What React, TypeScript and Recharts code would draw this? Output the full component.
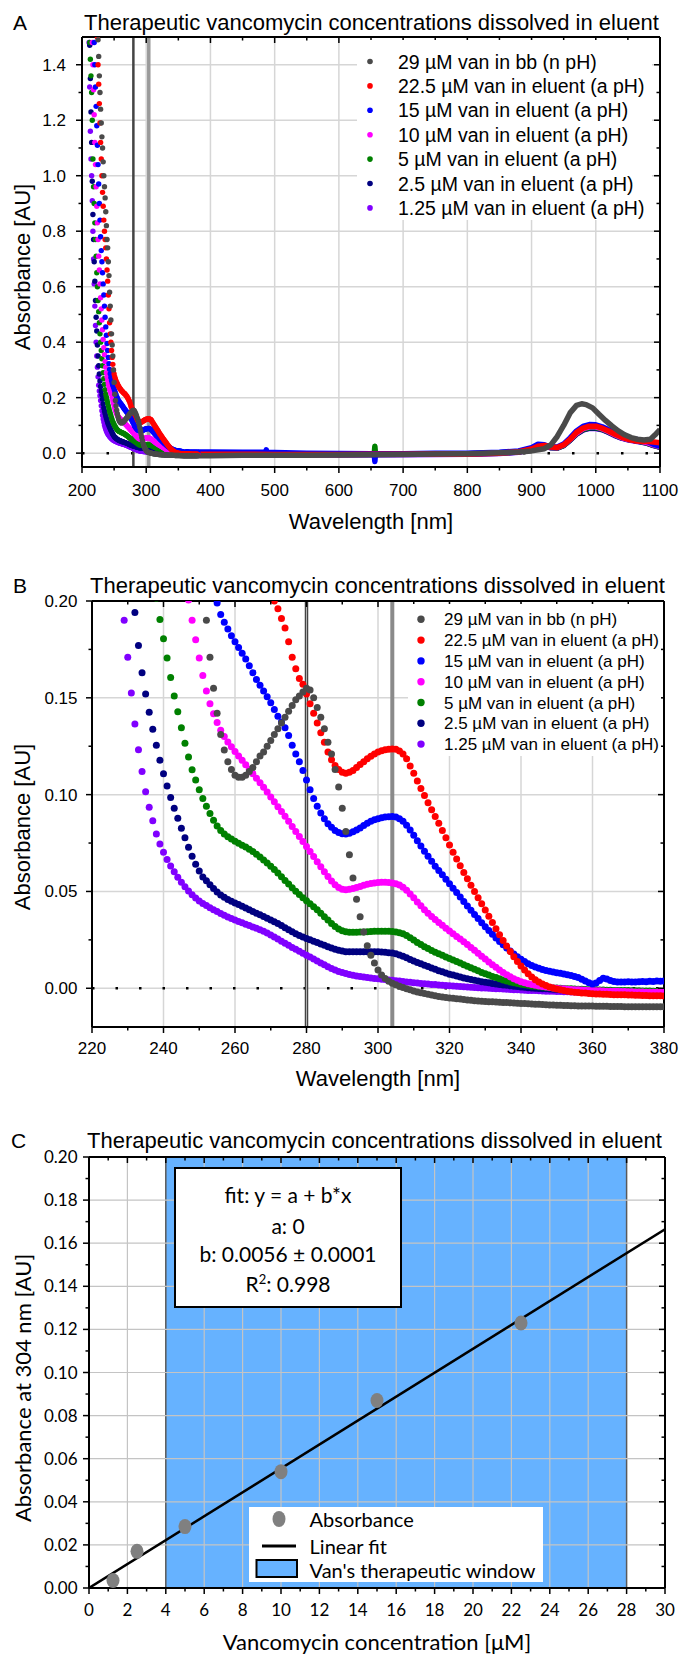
import React from "react";
import {
  ComposedChart,
  Scatter,
  Line,
  XAxis,
  YAxis,
  CartesianGrid,
  ReferenceLine,
  ReferenceArea,
} from "recharts";

const ARIAL = "'Liberation Sans', Arial, sans-serif";
const LATO = "Lato, 'Liberation Sans', sans-serif";
const TITLE = "Therapeutic vancomycin concentrations dissolved in eluent";

const SERIES_NAMES = [
  "29 µM van in bb (n pH)",
  "22.5 µM van in eluent (a pH)",
  "15 µM van in eluent (a pH)",
  "10 µM van in eluent (a pH)",
  "5 µM van in eluent (a pH)",
  "2.5 µM van in eluent (a pH)",
  "1.25 µM van in eluent (a pH)",
];
const SERIES_COLORS = ["#4a4a4a", "#ff0000", "#0000ff", "#ff00ff", "#008000", "#000080", "#8000ff"];

// steep UV edge above 0.2 AU (only visible in panel A), 1 nm steps from the start value
const GRAY_A_START = 224;
const GRAY_A = [1.56, 1.49, 1.43, 1.36, 1.3, 1.24, 1.19, 1.14, 1.1, 1.05, 1.0, 0.96, 0.92, 0.87, 0.82, 0.77, 0.74, 0.69, 0.64, 0.58, 0.53, 0.48, 0.43, 0.39, 0.35, 0.3, 0.255];
const RED_A_START = 223;
const RED_A = [1.58, 1.5, 1.4, 1.33, 1.26, 1.19, 1.12, 1.06, 1.0, 0.94, 0.89, 0.84, 0.8, 0.77, 0.74, 0.7, 0.66, 0.62, 0.57, 0.52, 0.47, 0.43, 0.4, 0.37, 0.345, 0.32, 0.3, 0.285, 0.275, 0.267, 0.26, 0.255, 0.25, 0.245, 0.241, 0.237, 0.233, 0.23, 0.227, 0.224, 0.222, 0.219, 0.217, 0.215, 0.213, 0.21, 0.207, 0.204];
const BLUE_A_START = 218;
const BLUE_A = [1.55, 1.48, 1.4, 1.32, 1.25, 1.18, 1.11, 1.04, 0.97, 0.9, 0.84, 0.78, 0.73, 0.69, 0.65, 0.61, 0.57, 0.53, 0.49, 0.455, 0.425, 0.395, 0.37, 0.345, 0.322, 0.302, 0.286, 0.273, 0.262, 0.253, 0.245, 0.238, 0.231, 0.224, 0.217, 0.211];
const PINK_A_START = 215;
const PINK_A = [1.55, 1.48, 1.4, 1.31, 1.22, 1.12, 1.04, 0.96, 0.89, 0.83, 0.77, 0.71, 0.66, 0.61, 0.56, 0.52, 0.48, 0.445, 0.41, 0.38, 0.355, 0.33, 0.31, 0.29, 0.275, 0.262, 0.25, 0.24, 0.231, 0.223, 0.217];
const GREEN_A_START = 211;
const GREEN_A = [1.55, 1.48, 1.42, 1.36, 1.3, 1.2, 1.06, 0.96, 0.9, 0.83, 0.77, 0.71, 0.65, 0.6, 0.55, 0.51, 0.47, 0.43, 0.4, 0.37, 0.34, 0.315, 0.29, 0.268, 0.248, 0.229];
const NAVY_A_START = 211;
const NAVY_A = [1.55, 1.47, 1.35, 1.23, 1.12, 0.98, 0.86, 0.77, 0.69, 0.62, 0.55, 0.49, 0.44, 0.39, 0.35, 0.315, 0.285, 0.26, 0.24, 0.224];
const PURPLE_A_START = 210;
const PURPLE_A = [1.55, 1.48, 1.32, 1.16, 1.06, 1.0, 0.91, 0.8, 0.7, 0.61, 0.53, 0.46, 0.4, 0.35, 0.31, 0.275, 0.245, 0.224];

// 1 nm readings up to 380 nm (panel B, also reused in panel A)
const GRAY_B_START = 251;
const GRAY_B = [
  0.212, 0.19, 0.171, 0.155, 0.142, 0.131, 0.123, 0.117, 0.113, 0.11,
  0.109, 0.109, 0.11, 0.112, 0.114, 0.117, 0.12, 0.122, 0.125, 0.128,
  0.131, 0.134, 0.137, 0.14, 0.143, 0.146, 0.149, 0.151, 0.153, 0.155,
  0.154, 0.15, 0.145, 0.14, 0.134, 0.127, 0.121, 0.113, 0.104, 0.093,
  0.081, 0.069, 0.057, 0.046, 0.037, 0.029, 0.022, 0.017, 0.013, 0.0095,
  0.0068, 0.005, 0.0036, 0.0026, 0.0018, 0.001, 0.0004, -0.0002, -0.0008, -0.0014,
  -0.0019, -0.0023, -0.0027, -0.0031, -0.0035, -0.0039, -0.0042, -0.0045, -0.0048, -0.005,
  -0.0052, -0.0054, -0.0056, -0.0058, -0.006, -0.0062, -0.0064, -0.0066, -0.0067, -0.0068,
  -0.0069, -0.007, -0.0071, -0.0072, -0.0073, -0.0074, -0.0075, -0.0076, -0.0077, -0.0078,
  -0.0079, -0.008, -0.0081, -0.0082, -0.0083, -0.0084, -0.0085, -0.0086, -0.0087, -0.0088,
  -0.0088, -0.0089, -0.0089, -0.009, -0.009, -0.0091, -0.0091, -0.0092, -0.0092, -0.0092,
  -0.0093, -0.0093, -0.0093, -0.0093, -0.0094, -0.0094, -0.0094, -0.0094, -0.0095, -0.0095,
  -0.0095, -0.0095, -0.0095, -0.0096, -0.0096, -0.0096, -0.0096, -0.0096, -0.0096, -0.0096,
];
const RED_B_START = 271;
const RED_B = [
  0.2, 0.196, 0.191, 0.186, 0.179, 0.171, 0.165, 0.16, 0.157, 0.152,
  0.147, 0.142, 0.137, 0.132, 0.127, 0.122, 0.118, 0.115, 0.113, 0.1115,
  0.111, 0.1115, 0.1125, 0.114, 0.1155, 0.117, 0.1185, 0.1198, 0.121, 0.122,
  0.1226, 0.1232, 0.1235, 0.1236, 0.1234, 0.1225, 0.121, 0.1185, 0.1148, 0.111,
  0.107, 0.1032, 0.0995, 0.0958, 0.0922, 0.0887, 0.0852, 0.0815, 0.0777, 0.074,
  0.0703, 0.0668, 0.0633, 0.0598, 0.0565, 0.0532, 0.05, 0.0468, 0.0436, 0.0404,
  0.0372, 0.034, 0.0308, 0.0277, 0.0247, 0.0218, 0.019, 0.0163, 0.0138, 0.0115,
  0.0094, 0.0075, 0.0058, 0.0044, 0.0032, 0.0022, 0.0014, 0.0007, 0.0001, -0.0004,
  -0.0008, -0.0012, -0.0015, -0.0018, -0.002, -0.0022, -0.0024, -0.0025, -0.0027, -0.0028,
  -0.0029, -0.003, -0.0031, -0.0031, -0.0032, -0.0033, -0.0033, -0.0034, -0.0034, -0.0035,
  -0.0035, -0.0036, -0.0036, -0.0037, -0.0037, -0.0038, -0.0038, -0.0039, -0.0039, -0.004,
];
const BLUE_B_START = 254;
const BLUE_B = [
  0.203, 0.199, 0.193, 0.189, 0.1855, 0.182, 0.179, 0.176, 0.173, 0.17,
  0.1665, 0.163, 0.1595, 0.1565, 0.1535, 0.1505, 0.1475, 0.144, 0.1405, 0.1375,
  0.1345, 0.1305, 0.1255, 0.121, 0.117, 0.1125, 0.1075, 0.1025, 0.098, 0.094,
  0.0905, 0.0875, 0.085, 0.0832, 0.0815, 0.0805, 0.0798, 0.0797, 0.08, 0.0808,
  0.0817, 0.0828, 0.0841, 0.0852, 0.0862, 0.087, 0.0876, 0.0881, 0.0884, 0.0886,
  0.0887, 0.0884, 0.0876, 0.0862, 0.0842, 0.0818, 0.079, 0.0762, 0.0735, 0.0708,
  0.0682, 0.0656, 0.063, 0.0608, 0.0586, 0.0563, 0.054, 0.0517, 0.0494, 0.0471,
  0.0448, 0.0425, 0.0403, 0.0381, 0.036, 0.0339, 0.0318, 0.0298, 0.0279, 0.026,
  0.0242, 0.0225, 0.0208, 0.0192, 0.0177, 0.0163, 0.015, 0.0138, 0.0127, 0.0118,
  0.011, 0.0103, 0.0097, 0.0092, 0.0088, 0.0084, 0.008, 0.0077, 0.0074, 0.007,
  0.0066, 0.0061, 0.0055, 0.0047, 0.0038, 0.0028, 0.0022, 0.0027, 0.004, 0.0052,
  0.0048, 0.004, 0.0035, 0.0033, 0.0032, 0.0033, 0.0034, 0.0033, 0.0032, 0.0034,
  0.0035, 0.0034, 0.0036, 0.0035, 0.0037, 0.0036, 0.0037,
];
const PINK_B_START = 246;
const PINK_B = [
  0.212, 0.2005, 0.19, 0.18, 0.1705, 0.1615, 0.1535, 0.147, 0.1418, 0.1372,
  0.1333, 0.13, 0.1272, 0.1247, 0.1223, 0.12, 0.1177, 0.1154, 0.1131, 0.1108,
  0.1085, 0.1062, 0.1038, 0.1013, 0.0988, 0.0963, 0.0938, 0.0913, 0.0888, 0.0862,
  0.0836, 0.081, 0.0784, 0.0758, 0.0732, 0.0706, 0.068, 0.0654, 0.0628, 0.0602,
  0.0577, 0.0554, 0.0535, 0.052, 0.0512, 0.0509, 0.0511, 0.0515, 0.052, 0.0526,
  0.0532, 0.0537, 0.0541, 0.0544, 0.0546, 0.0547, 0.0547, 0.0546, 0.0544, 0.054,
  0.0533, 0.0522, 0.0506, 0.0487, 0.0467, 0.0446, 0.0426, 0.0406, 0.0388, 0.0371,
  0.0355, 0.034, 0.0325, 0.031, 0.0296, 0.0282, 0.0268, 0.0254, 0.024, 0.0226,
  0.0211, 0.0196, 0.0181, 0.0166, 0.0151, 0.0136, 0.0122, 0.0108, 0.0095, 0.0082,
  0.007, 0.0059, 0.0049, 0.0041, 0.0034, 0.0028, 0.0023, 0.0019, 0.0015, 0.0012,
  0.0009, 0.0007, 0.0004, 0.0002, 0, -0.0002, -0.0003, -0.0005, -0.0006, -0.0007,
  -0.0008, -0.0009, -0.001, -0.0011, -0.0012, -0.0013, -0.0013, -0.0014, -0.0015, -0.0015,
  -0.0016, -0.0016, -0.0017, -0.0017, -0.0018, -0.0018, -0.0019, -0.0019, -0.0019, -0.002,
  -0.002, -0.002, -0.0021, -0.0021, -0.0021,
];
const GREEN_B_START = 237;
const GREEN_B = [
  0.212, 0.2015, 0.1905, 0.1805, 0.1705, 0.1605, 0.151, 0.1428, 0.1345, 0.1265,
  0.1195, 0.1128, 0.1075, 0.1025, 0.098, 0.094, 0.0902, 0.0868, 0.0838, 0.0815,
  0.0797, 0.0783, 0.0771, 0.0759, 0.0749, 0.0739, 0.0729, 0.0718, 0.0706, 0.0692,
  0.0678, 0.0663, 0.0647, 0.063, 0.0613, 0.0595, 0.0576, 0.0557, 0.0538, 0.0519,
  0.0501, 0.0484, 0.0468, 0.0452, 0.0437, 0.0421, 0.0405, 0.0388, 0.037, 0.0352,
  0.0335, 0.0319, 0.0306, 0.0297, 0.0292, 0.0289, 0.0289, 0.0289, 0.029, 0.0291,
  0.0292, 0.0293, 0.0294, 0.0295, 0.0295, 0.0295, 0.0294, 0.0293, 0.0291, 0.0287,
  0.0281, 0.0272, 0.0261, 0.0249, 0.0237, 0.0226, 0.0215, 0.0205, 0.0195, 0.0186,
  0.0178, 0.017, 0.0162, 0.0154, 0.0146, 0.0138, 0.013, 0.0122, 0.0114, 0.0106,
  0.0098, 0.009, 0.0082, 0.0075, 0.0068, 0.0061, 0.0055, 0.0049, 0.0043, 0.0038,
  0.0033, 0.0029, 0.0025, 0.0021, 0.0018, 0.0015, 0.0012, 0.001, 0.0008, 0.0006,
  0.0004, 0.0003, 0.0002, 0.0001, 0, -0.0001, -0.0002, -0.0003, -0.0004, -0.0005,
  -0.0005, -0.0006, -0.0007, -0.0008, -0.0008, -0.0009, -0.0009, -0.001, -0.001, -0.0011,
  -0.0011, -0.0012, -0.0012, -0.0012, -0.0013, -0.0013, -0.0013, -0.0014, -0.0014, -0.0014,
  -0.0015, -0.0015, -0.0015, -0.0015,
];
const NAVY_B_START = 231;
const NAVY_B = [
  0.21, 0.194, 0.177, 0.163, 0.152, 0.1425, 0.1338, 0.1255, 0.1178, 0.1108,
  0.1045, 0.0985, 0.093, 0.0878, 0.0827, 0.0777, 0.0728, 0.0682, 0.064, 0.0605,
  0.0575, 0.0555, 0.0535, 0.0515, 0.0497, 0.0482, 0.047, 0.0459, 0.045, 0.0441,
  0.0432, 0.0423, 0.0414, 0.0405, 0.0396, 0.0388, 0.038, 0.0371, 0.0362, 0.0353,
  0.0344, 0.0334, 0.0324, 0.0313, 0.0302, 0.0292, 0.0282, 0.0273, 0.0265, 0.0257,
  0.025, 0.0243, 0.0236, 0.0229, 0.0222, 0.0215, 0.0208, 0.0201, 0.0196, 0.0192,
  0.0189, 0.0188, 0.0188, 0.0188, 0.0188, 0.0188, 0.0188, 0.0188, 0.0188, 0.0188,
  0.0187, 0.0186, 0.0184, 0.0182, 0.0178, 0.0172, 0.0165, 0.0157, 0.0149, 0.0141,
  0.0133, 0.0126, 0.0119, 0.0112, 0.0105, 0.0098, 0.0091, 0.0085, 0.0079, 0.0073,
  0.0068, 0.0063, 0.0058, 0.0053, 0.0049, 0.0045, 0.0041, 0.0037, 0.0034, 0.0031,
  0.0028, 0.0025, 0.0022, 0.0019, 0.0017, 0.0015, 0.0013, 0.0011, 0.0009, 0.0007,
  0.0005, 0.0003, 0.0001, 0, -0.0001, -0.0002, -0.0003, -0.0004, -0.0005, -0.0006,
  -0.0007, -0.0008, -0.0009, -0.001, -0.0011, -0.0012, -0.0013, -0.0014, -0.0015, -0.0016,
  -0.0017, -0.0018, -0.0018, -0.0019, -0.0019, -0.002, -0.002, -0.0021, -0.0021, -0.0022,
  -0.0022, -0.0022, -0.0023, -0.0023, -0.0023, -0.0024, -0.0024, -0.0024, -0.0025, -0.0025,
];
const PURPLE_B_START = 228;
const PURPLE_B = [
  0.207, 0.19, 0.171, 0.1525, 0.1365, 0.1232, 0.112, 0.1015, 0.0935, 0.0865,
  0.0797, 0.0745, 0.0702, 0.0665, 0.0632, 0.0602, 0.0574, 0.0548, 0.0524, 0.0502,
  0.0483, 0.0466, 0.0451, 0.0438, 0.0427, 0.0416, 0.0406, 0.0396, 0.0386, 0.0377,
  0.0368, 0.036, 0.0352, 0.0345, 0.0338, 0.0331, 0.0324, 0.0317, 0.031, 0.0302,
  0.0294, 0.0285, 0.0275, 0.0265, 0.0254, 0.0243, 0.0232, 0.0222, 0.0211, 0.0201,
  0.0191, 0.0181, 0.0171, 0.0161, 0.0151, 0.0141, 0.0131, 0.0121, 0.0111, 0.0102,
  0.0094, 0.0087, 0.0081, 0.0076, 0.0071, 0.0067, 0.0064, 0.0061, 0.0058, 0.0055,
  0.0053, 0.0051, 0.0049, 0.0047, 0.0045, 0.0043, 0.0041, 0.0039, 0.0037, 0.0035,
  0.0033, 0.0031, 0.0029, 0.0027, 0.0025, 0.0024, 0.0022, 0.002, 0.0019, 0.0017,
  0.0016, 0.0014, 0.0013, 0.0012, 0.001, 0.0009, 0.0008, 0.0007, 0.0005, 0.0004,
  0.0003, 0.0002, 0.0001, 0, -0.0001, -0.0002, -0.0003, -0.0004, -0.0005, -0.0006,
  -0.0007, -0.0008, -0.0009, -0.001, -0.0011, -0.0012, -0.0012, -0.0013, -0.0014, -0.0015,
  -0.0015, -0.0016, -0.0017, -0.0017, -0.0018, -0.0018, -0.0019, -0.0019, -0.002, -0.002,
  -0.0021, -0.0021, -0.0021, -0.0022, -0.0022, -0.0022, -0.0023, -0.0023, -0.0023, -0.0024,
  -0.0024, -0.0024, -0.0024, -0.0025, -0.0025, -0.0025, -0.0025, -0.0026, -0.0026, -0.0026,
  -0.0026, -0.0027, -0.0027,
];

// visible/NIR part of panel A, [nm, AU]
const GRAY_TAIL = [[380, -0.0096], [400, -0.009], [450, -0.008], [500, -0.008], [550, -0.008], [600, -0.007], [650, -0.006], [700, -0.005], [750, -0.003], [800, -0.002], [850, 0.001], [880, 0.004], [900, 0.008], [910, 0.012], [920, 0.016], [930, 0.03], [940, 0.06], [950, 0.1], [960, 0.145], [970, 0.172], [978, 0.178], [985, 0.175], [995, 0.163], [1005, 0.14], [1015, 0.118], [1025, 0.098], [1035, 0.08], [1045, 0.066], [1055, 0.056], [1065, 0.05], [1075, 0.047], [1085, 0.05], [1092, 0.065], [1100, 0.085]];
const RED_TAIL = [[380, -0.004], [400, -0.004], [450, -0.004], [500, -0.005], [550, -0.005], [600, -0.005], [650, -0.004], [700, -0.004], [750, -0.003], [800, -0.003], [850, 0], [880, 0.005], [900, 0.015], [910, 0.025], [920, 0.028], [930, 0.022], [940, 0.02], [950, 0.03], [960, 0.05], [970, 0.075], [980, 0.09], [990, 0.097], [1000, 0.097], [1010, 0.09], [1020, 0.08], [1030, 0.068], [1040, 0.058], [1050, 0.05], [1060, 0.045], [1070, 0.043], [1080, 0.042], [1090, 0.04], [1100, 0.037]];
const BLUE_TAIL = [[380, 0.0037], [400, 0.004], [450, 0.003], [486, 0.004], [487, 0.012], [488, -0.006], [489, 0.003], [500, 0.002], [550, 0], [600, -0.001], [650, -0.002], [655, -0.002], [656, -0.03], [657, -0.002], [700, -0.002], [750, 0], [800, 0], [850, 0.003], [880, 0.008], [900, 0.02], [910, 0.032], [920, 0.03], [930, 0.022], [940, 0.022], [950, 0.033], [960, 0.055], [970, 0.08], [980, 0.096], [990, 0.103], [1000, 0.102], [1010, 0.095], [1020, 0.084], [1030, 0.072], [1040, 0.062], [1050, 0.055], [1060, 0.05], [1070, 0.047], [1080, 0.042], [1090, 0.032], [1100, 0.025]];
const PINK_TAIL = [[380, -0.0021], [400, -0.002], [500, -0.003], [600, -0.004], [700, -0.003], [800, -0.002], [850, 0.001], [880, 0.005], [900, 0.017], [910, 0.028], [920, 0.028], [930, 0.021], [940, 0.02], [950, 0.03], [960, 0.05], [970, 0.072], [980, 0.088], [990, 0.095], [1000, 0.095], [1010, 0.088], [1020, 0.078], [1030, 0.066], [1040, 0.056], [1050, 0.05], [1060, 0.046], [1070, 0.043], [1080, 0.038], [1090, 0.03], [1100, 0.024]];
const GREEN_TAIL = [[380, -0.0015], [400, -0.002], [500, -0.003], [600, -0.004], [655, -0.004], [656, 0.025], [657, -0.004], [700, -0.004], [800, -0.002], [850, 0.001], [880, 0.005], [900, 0.016], [910, 0.027], [920, 0.027], [930, 0.02], [940, 0.019], [950, 0.028], [960, 0.048], [970, 0.07], [980, 0.085], [990, 0.092], [1000, 0.092], [1010, 0.086], [1020, 0.076], [1030, 0.065], [1040, 0.056], [1050, 0.05], [1060, 0.046], [1070, 0.042], [1080, 0.036], [1090, 0.028], [1100, 0.022]];
const NAVY_TAIL = [[380, -0.0025], [400, -0.003], [500, -0.004], [600, -0.005], [700, -0.004], [800, -0.003], [850, 0], [880, 0.004], [900, 0.015], [910, 0.026], [920, 0.026], [930, 0.02], [940, 0.019], [950, 0.028], [960, 0.047], [970, 0.069], [980, 0.084], [990, 0.09], [1000, 0.09], [1010, 0.085], [1020, 0.075], [1030, 0.064], [1040, 0.055], [1050, 0.049], [1060, 0.045], [1070, 0.041], [1080, 0.036], [1090, 0.028], [1100, 0.022]];
const PURPLE_TAIL = [[380, -0.0027], [400, -0.004], [500, -0.006], [600, -0.007], [700, -0.006], [800, -0.004], [850, -0.001], [880, 0.003], [900, 0.014], [910, 0.025], [920, 0.025], [930, 0.019], [940, 0.018], [950, 0.027], [960, 0.046], [970, 0.068], [980, 0.083], [990, 0.089], [1000, 0.089], [1010, 0.084], [1020, 0.074], [1030, 0.063], [1040, 0.054], [1050, 0.048], [1060, 0.044], [1070, 0.04], [1080, 0.035], [1090, 0.027], [1100, 0.021]];

// panel C
const CONC = [1.25, 2.5, 5, 10, 15, 22.5];
const ABS_304 = [0.0035, 0.017, 0.0285, 0.054, 0.087, 0.123];
const FIT_X = [0, 30];
const FIT_Y = [0, 0.1665];
const WINDOW = [4, 28];

// ticks
const A_X_TICKS = [200, 250, 300, 350, 400, 450, 500, 550, 600, 650, 700, 750, 800, 850, 900, 950, 1000, 1050, 1100];
const A_X_MAJOR = [200, 300, 400, 500, 600, 700, 800, 900, 1000, 1100];
const A_Y_TICKS = [0, 0.1, 0.2, 0.3, 0.4, 0.5, 0.6, 0.7, 0.8, 0.9, 1.0, 1.1, 1.2, 1.3, 1.4];
const A_Y_MAJOR = [0, 0.2, 0.4, 0.6, 0.8, 1.0, 1.2, 1.4];
const B_X_TICKS = [220, 230, 240, 250, 260, 270, 280, 290, 300, 310, 320, 330, 340, 350, 360, 370, 380];
const B_X_MAJOR = [220, 240, 260, 280, 300, 320, 340, 360, 380];
const B_Y_TICKS = [0, 0.025, 0.05, 0.075, 0.1, 0.125, 0.15, 0.175, 0.2];
const B_Y_MAJOR = [0, 0.05, 0.1, 0.15, 0.2];
const C_X_TICKS = [0, 1, 2, 3, 4, 5, 6, 7, 8, 9, 10, 11, 12, 13, 14, 15, 16, 17, 18, 19, 20, 21, 22, 23, 24, 25, 26, 27, 28, 29, 30];
const C_X_MAJOR = [0, 2, 4, 6, 8, 10, 12, 14, 16, 18, 20, 22, 24, 26, 28, 30];
const C_Y_TICKS = [0, 0.01, 0.02, 0.03, 0.04, 0.05, 0.06, 0.07, 0.08, 0.09, 0.1, 0.11, 0.12, 0.13, 0.14, 0.15, 0.16, 0.17, 0.18, 0.19, 0.2];
const C_Y_MAJOR = [0, 0.02, 0.04, 0.06, 0.08, 0.1, 0.12, 0.14, 0.16, 0.18, 0.2];
const C_GRID_X = [2, 6, 8, 10, 12, 14, 16, 18, 20, 22, 24, 26];
const C_GRID_Y = [0.02, 0.04, 0.06, 0.08, 0.1, 0.12, 0.14, 0.16, 0.18];

const SETS = [
  { a: [GRAY_A_START, GRAY_A], b: [GRAY_B_START, GRAY_B], tail: GRAY_TAIL },
  { a: [RED_A_START, RED_A], b: [RED_B_START, RED_B], tail: RED_TAIL },
  { a: [BLUE_A_START, BLUE_A], b: [BLUE_B_START, BLUE_B], tail: BLUE_TAIL },
  { a: [PINK_A_START, PINK_A], b: [PINK_B_START, PINK_B], tail: PINK_TAIL },
  { a: [GREEN_A_START, GREEN_A], b: [GREEN_B_START, GREEN_B], tail: GREEN_TAIL },
  { a: [NAVY_A_START, NAVY_A], b: [NAVY_B_START, NAVY_B], tail: NAVY_TAIL },
  { a: [PURPLE_A_START, PURPLE_A], b: [PURPLE_B_START, PURPLE_B], tail: PURPLE_TAIL },
];
const DRAW_ORDER = [6, 5, 4, 3, 2, 1, 0];

const seq = (s: any[]) => (s[1] as number[]).map((y, i) => ({ x: (s[0] as number) + i, y }));
const pairs = (arr: number[][]) => arr.map(([x, y]) => ({ x, y }));

const AXIS_LINE = { stroke: "#000", strokeWidth: 2 };
// axis band sizes; chart margins below are the plot edges minus these
const XH = 30;
const YW = 60;
const RW = 10;

function axisTick(side: string, major: number[], fmt: (v: number) => string, font: string, gap: number) {
  return (p: any) => {
    const v = Number(p.payload.value);
    const isMajor = major.some((m) => Math.abs(m - v) < 1e-9);
    const len = isMajor ? 6 : 3.5;
    const st = { stroke: "#000", strokeWidth: 1.5 };
    if (side === "bottom")
      return (
        <g>
          <line x1={p.x} y1={p.y} x2={p.x} y2={p.y + len} {...st} />
          {isMajor && (
            <text x={p.x} y={p.y + gap} textAnchor="middle" fontFamily={font} fontSize={17} fill="#000">
              {fmt(v)}
            </text>
          )}
        </g>
      );
    if (side === "top") return <line x1={p.x} y1={p.y} x2={p.x} y2={p.y + len} {...st} />;
    if (side === "left")
      return (
        <g>
          <line x1={p.x} y1={p.y} x2={p.x - len} y2={p.y} {...st} />
          {isMajor && (
            <text x={p.x - gap} y={p.y + 6} textAnchor="end" fontFamily={font} fontSize={17} fill="#000">
              {fmt(v)}
            </text>
          )}
        </g>
      );
    return <line x1={p.x} y1={p.y} x2={p.x - len} y2={p.y} {...st} />;
  };
}

const dot = (color: string, r: number) => (p: any) => <circle cx={p.cx} cy={p.cy} r={r} fill={color} />;

function Frame(props: any) {
  const { xDomain, yDomain, xTicks, xMajor, yTicks, yMajor, xFmt, yFmt, font, xGap, yGap } = props;
  return [
    <XAxis key="xb" type="number" dataKey="x" domain={xDomain} ticks={xTicks} allowDataOverflow interval={0}
      height={XH} tickSize={0} tickMargin={0} tickLine={false} axisLine={AXIS_LINE}
      tick={axisTick("bottom", xMajor, xFmt, font, xGap)} />,
    <XAxis key="xt" xAxisId="top" orientation="top" type="number" dataKey="x" domain={xDomain} ticks={xTicks}
      allowDataOverflow interval={0} height={XH} tickSize={0} tickMargin={0} tickLine={false} axisLine={AXIS_LINE}
      tick={axisTick("top", xMajor, xFmt, font, 0)} />,
    <YAxis key="yl" type="number" dataKey="y" domain={yDomain} ticks={yTicks} allowDataOverflow interval={0}
      width={YW} tickSize={0} tickMargin={0} tickLine={false} axisLine={AXIS_LINE}
      tick={axisTick("left", yMajor, yFmt, font, yGap)} />,
    <YAxis key="yr" yAxisId="right" orientation="right" type="number" dataKey="y" domain={yDomain} ticks={yTicks}
      allowDataOverflow interval={0} width={RW} tickSize={0} tickMargin={0} tickLine={false} axisLine={AXIS_LINE}
      tick={axisTick("right", yMajor, yFmt, font, 0)} />,
  ];
}

// plot box: left, top, right, bottom (page px) -> chart margin for a chart placed at `top`
const marginFor = (chartTop: number, chartH: number, l: number, t: number, r: number, b: number) => ({
  left: l - YW,
  top: t - chartTop - XH,
  right: 681 - r - RW,
  bottom: chartTop + chartH - b - XH,
});

function PanelA() {
  return (
    <div style={{ position: "absolute", left: 0, top: 0 }}>
      <ComposedChart width={681} height={550} margin={marginFor(0, 550, 82, 37, 660, 467)}>
        <CartesianGrid stroke="#d6d6d6" strokeWidth={1.5} verticalValues={A_X_MAJOR} horizontalValues={A_Y_MAJOR} />
        {Frame({
          xDomain: [200, 1100], yDomain: [-0.05, 1.5], xTicks: A_X_TICKS, xMajor: A_X_MAJOR,
          yTicks: A_Y_TICKS, yMajor: A_Y_MAJOR, xFmt: (v: number) => String(v), yFmt: (v: number) => v.toFixed(1),
          font: ARIAL, xGap: 29, yGap: 16,
        })}
        <ReferenceLine y={0} stroke="#000" strokeWidth={2.5} strokeDasharray="2.5 22" />
        <ReferenceLine x={280} stroke="#444" strokeWidth={2.5} />
        <ReferenceLine x={304} stroke="#9a9a9a" strokeWidth={3.5} />
        {DRAW_ORDER.map((i) => (
          <Line key={"t" + i} data={pairs(SETS[i].tail)} dataKey="y" type="linear" stroke={SERIES_COLORS[i]}
            strokeWidth={5.5} strokeLinejoin="round" dot={false} isAnimationActive={false} />
        ))}
        {DRAW_ORDER.map((i) => (
          <Scatter key={"s" + i} data={[...seq(SETS[i].a), ...seq(SETS[i].b)]} dataKey="y"
            fill={SERIES_COLORS[i]} shape={dot(SERIES_COLORS[i], 2.7)} isAnimationActive={false} />
        ))}
      </ComposedChart>
    </div>
  );
}

function PanelB() {
  return (
    <div style={{ position: "absolute", left: 0, top: 550 }}>
      <ComposedChart width={681} height={560} margin={marginFor(550, 560, 92, 601, 664, 1027)}>
        <CartesianGrid stroke="#d6d6d6" strokeWidth={1.5} verticalValues={B_X_MAJOR} horizontalValues={B_Y_MAJOR} />
        {Frame({
          xDomain: [220, 380], yDomain: [-0.02, 0.2], xTicks: B_X_TICKS, xMajor: B_X_MAJOR,
          yTicks: B_Y_TICKS, yMajor: B_Y_MAJOR, xFmt: (v: number) => String(v), yFmt: (v: number) => v.toFixed(2),
          font: ARIAL, xGap: 27, yGap: 14.5,
        })}
        <ReferenceLine y={0} stroke="#000" strokeWidth={2.5} strokeDasharray="2.5 21" />
        <ReferenceLine x={280} stroke="#444" strokeWidth={3.5} />
        <ReferenceLine x={280} stroke="#b0b0b0" strokeWidth={1} />
        <ReferenceLine x={304} stroke="#8a8a8a" strokeWidth={4} />
        {DRAW_ORDER.map((i) => (
          <Scatter key={"s" + i} data={seq(SETS[i].b)} dataKey="y" fill={SERIES_COLORS[i]}
            shape={dot(SERIES_COLORS[i], 3.5)} isAnimationActive={false} />
        ))}
      </ComposedChart>
    </div>
  );
}

function PanelC() {
  const pts = CONC.map((x, i) => ({ x, y: ABS_304[i] }));
  const fit = FIT_X.map((x, i) => ({ x, y: FIT_Y[i] }));
  return (
    <div style={{ position: "absolute", left: 0, top: 1110 }}>
      <ComposedChart width={681} height={547} margin={marginFor(1110, 547, 89, 1157, 665, 1588)}>
        <ReferenceArea x1={WINDOW[0]} x2={WINDOW[1]} y1={0} y2={0.2} fill="#66b2ff" fillOpacity={1}
          stroke="#5a5a5a" strokeWidth={1.5} />
        {C_GRID_X.map((v) => (
          <ReferenceLine key={"gx" + v} x={v} stroke="#c4c4c4" strokeWidth={1.2} />
        ))}
        {C_GRID_Y.map((v) => (
          <ReferenceLine key={"gy" + v} y={v} stroke="#c4c4c4" strokeWidth={1.2} />
        ))}
        {Frame({
          xDomain: [0, 30], yDomain: [0, 0.2], xTicks: C_X_TICKS, xMajor: C_X_MAJOR,
          yTicks: C_Y_TICKS, yMajor: C_Y_MAJOR, xFmt: (v: number) => String(v), yFmt: (v: number) => v.toFixed(2),
          font: LATO, xGap: 28, yGap: 11.5,
        })}
        <Scatter data={pts} dataKey="y" fill="#808080" isAnimationActive={false}
          shape={(p: any) => <ellipse cx={p.cx} cy={p.cy} rx={6.5} ry={7.5} fill="#808080" />} />
        <Line data={fit} dataKey="y" type="linear" stroke="#000" strokeWidth={2.5} dot={false} isAnimationActive={false} />
      </ComposedChart>
    </div>
  );
}

function Overlay() {
  const t = { fontFamily: ARIAL, fill: "#000" };
  return (
    <svg width={681} height={1657} style={{ position: "absolute", left: 0, top: 0, pointerEvents: "none" }}>
      {/* A */}
      <text x={13} y={29.5} fontSize={21} {...t}>A</text>
      <text x={84} y={29.5} fontSize={22} {...t}>{TITLE}</text>
      <text transform="translate(22,267) rotate(-90)" textAnchor="middle" dominantBaseline="central" fontSize={22} {...t}>
        Absorbance [AU]
      </text>
      <text x={371} y={529} textAnchor="middle" fontSize={22} {...t}>Wavelength [nm]</text>
      <rect x={357} y={40} width={295} height={180} fill="#fff" />
      {SERIES_NAMES.map((n, i) => (
        <g key={"la" + i}>
          <circle cx={370} cy={61.5 + 24.4 * i} r={2.8} fill={SERIES_COLORS[i]} />
          <text x={398} y={61.5 + 24.4 * i + 7} fontSize={19.5} {...t}>{n}</text>
        </g>
      ))}

      {/* B */}
      <text x={13} y={593} fontSize={21} {...t}>B</text>
      <text x={90} y={593} fontSize={22} {...t}>{TITLE}</text>
      <text transform="translate(22,827) rotate(-90)" textAnchor="middle" dominantBaseline="central" fontSize={22} {...t}>
        Absorbance [AU]
      </text>
      <text x={378} y={1086} textAnchor="middle" fontSize={22} {...t}>Wavelength [nm]</text>
      <rect x={408} y={604} width={253} height={152} fill="#fff" />
      {SERIES_NAMES.map((n, i) => (
        <g key={"lb" + i}>
          <circle cx={421} cy={619.3 + 20.8 * i} r={3.7} fill={SERIES_COLORS[i]} />
          <text x={444} y={619.3 + 20.8 * i + 6} fontSize={17} {...t}>{n}</text>
        </g>
      ))}

      {/* C */}
      <text x={11} y={1148} fontSize={21} {...t}>C</text>
      <text x={87} y={1148} fontSize={22} {...t}>{TITLE}</text>
      <text transform="translate(22,1388) rotate(-90)" textAnchor="middle" dominantBaseline="central" fontSize={22}
        fontFamily={LATO} fill="#000">
        Absorbance at 304 nm [AU]
      </text>
      <text x={377} y={1650} textAnchor="middle" fontSize={22} fontFamily={LATO} fill="#000">
        Vancomycin concentration [μM]
      </text>
      <rect x={175} y={1168} width={226} height={139} fill="#fff" stroke="#000" strokeWidth={2} />
      <g fontFamily={LATO} fontSize={21} fill="#000" textAnchor="middle">
        <text x={288} y={1202.5}>fit: y = a + b*x</text>
        <text x={288} y={1233.5}>a: 0</text>
        <text x={288} y={1261.5}>b: 0.0056 ± 0.0001</text>
        <text x={288} y={1291.5}>
          R<tspan dy={-8} fontSize={13}>2</tspan>
          <tspan dy={8}>: 0.998</tspan>
        </text>
      </g>
      <rect x={249} y={1507} width={294} height={75} fill="#fff" />
      <ellipse cx={279} cy={1519} rx={6.5} ry={8} fill="#808080" />
      <line x1={262} y1={1546} x2={296} y2={1546} stroke="#000" strokeWidth={3} />
      <rect x={256.5} y={1560} width={40.5} height={17} fill="#66b2ff" stroke="#000" strokeWidth={2} />
      <g fontFamily={LATO} fontSize={20} fill="#000">
        <text x={309.6} y={1526.5}>Absorbance</text>
        <text x={309.6} y={1553.5}>Linear fit</text>
        <text x={309.6} y={1577.5}>Van's therapeutic window</text>
      </g>
    </svg>
  );
}

export default function App() {
  return (
    <div style={{ position: "relative", width: 681, height: 1657, background: "#fff" }}>
      <style>{"body{margin:0}"}</style>
      <PanelA />
      <PanelB />
      <PanelC />
      <Overlay />
    </div>
  );
}
